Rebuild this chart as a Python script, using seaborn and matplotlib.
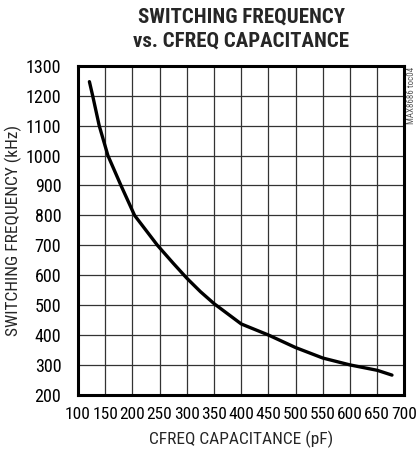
import numpy as np
import pandas as pd
import matplotlib
matplotlib.use("Agg")
import matplotlib.pyplot as plt
import seaborn as sns


# ==========================================
# DATA
# ==========================================

capacitance_pf = [121, 127, 139, 155, 179, 204, 225, 246, 275, 300,
                  325, 350, 400, 450, 500, 550, 600, 650, 677]

frequency_khz = [1247, 1200, 1100, 1000, 900, 800, 750, 700, 640, 590,
                 545, 505, 437, 400, 358, 323, 300, 282, 266]

x_ticks = list(range(100, 701, 50))
y_ticks = list(range(200, 1301, 100))

title_text = "SWITCHING FREQUENCY\nvs. CFREQ CAPACITANCE"
x_label = "CFREQ CAPACITANCE (pF)"
y_label = "SWITCHING FREQUENCY (kHz)"
tag_text = "MAX8686 toc04"


# ==========================================
# STYLE
# ==========================================

sns.set_style("white")

body_fonts = ["Roboto Condensed", "Archivo Narrow", "Barlow Semi Condensed", "DejaVu Sans"]
title_fonts = ["Roboto Condensed", "Barlow Condensed", "Archivo Narrow", "DejaVu Sans"]

plt.rcParams["font.family"] = body_fonts


# ==========================================
# PLOT
# ==========================================

df = pd.DataFrame({
    "cap": capacitance_pf,
    "freq": frequency_khz
})

fig = plt.figure(figsize=(4.17, 4.57), dpi=100)

ax = fig.add_axes([0.187, 0.136, 0.783, 0.72])

sns.lineplot(
    data=df,
    x="cap",
    y="freq",
    sort=False,
    color="black",
    linewidth=2.4,
    ax=ax
)

ax.set_xlim(100, 700)
ax.set_ylim(200, 1300)

ax.set_xticks(x_ticks)
ax.set_yticks(y_ticks)

ax.grid(True, color="#333333", linewidth=0.9)
ax.set_axisbelow(True)

for spine in ax.spines.values():
    spine.set_visible(True)
    spine.set_color("black")
    spine.set_linewidth(2.2)

ax.tick_params(axis="both", length=0, colors="black")
ax.tick_params(axis="x", pad=9, labelsize=12.5)
ax.tick_params(axis="y", pad=12, labelsize=13)

ax.set_xlabel(x_label, fontsize=12.5, labelpad=6)
ax.set_ylabel(y_label, fontsize=12.5, labelpad=3)

ax.set_title(
    title_text,
    fontsize=15,
    fontweight="bold",
    family=title_fonts,
    linespacing=1.3,
    pad=14
)

fig.text(
    0.986, 0.853,
    tag_text,
    rotation=90,
    fontsize=6.5,
    color="#555555",
    ha="center",
    va="top"
)

fig.savefig("out.png", dpi=100)
